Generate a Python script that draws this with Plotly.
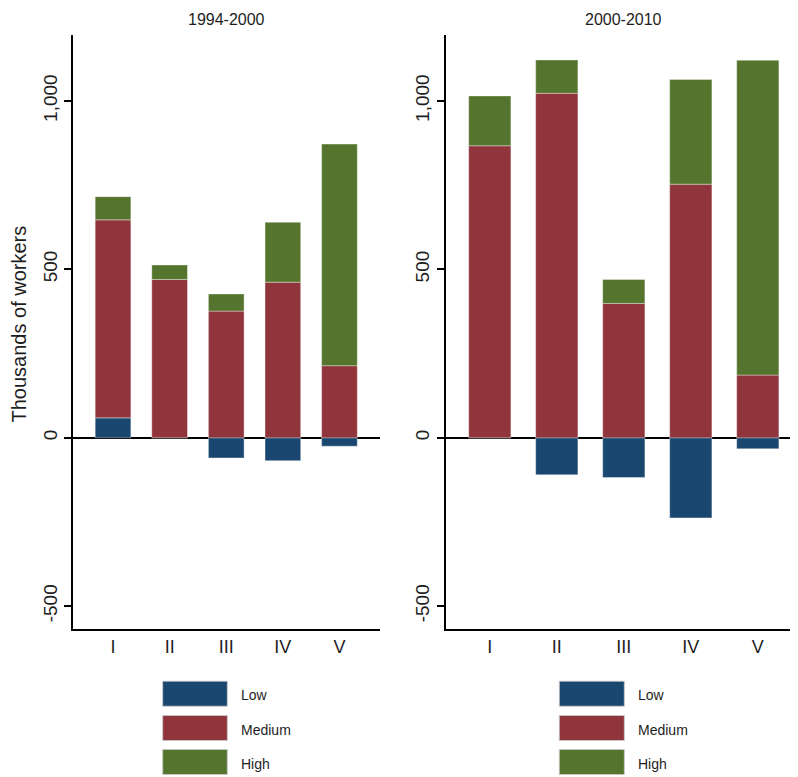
import plotly.graph_objects as go

# ---- data ----
categories = ["I", "II", "III", "IV", "V"]
series_names = ["Low", "Medium", "High"]
series_colors = ["#1a476f", "#90353b", "#55752f"]

p1_title = "1994-2000"
p1_low = [59, 0, -60, -68, -25]
p1_medium = [588, 470, 376, 462, 214]
p1_high = [69, 43, 51, 178, 658]

p2_title = "2000-2010"
p2_low = [0, -110, -118, -238, -33]
p2_medium = [867, 1023, 399, 753, 186]
p2_high = [148, 99, 71, 311, 935]

y_tickvals = [-500, 0, 500, 1000]
y_ticktext = ["-500", "0", "500", "1,000"]
y_title = "Thousands of workers"

FONT = "Liberation Sans, Arial, sans-serif"
TXT = "#1e1e1e"
OFF = 8  # page body margin
W, H = 798 - OFF, 777 - OFF

fig = go.Figure()

panels = [
    (p1_title, [p1_low, p1_medium, p1_high], "x", "y"),
    (p2_title, [p2_low, p2_medium, p2_high], "x2", "y2"),
]
for title, vals, xa, ya in panels:
    for name, color, v in zip(series_names, series_colors, vals):
        fig.add_trace(go.Bar(
            x=categories, y=v, name=name, xaxis=xa, yaxis=ya,
            marker=dict(color=color, line=dict(color="rgba(255,255,255,0.45)", width=0.8)),
            showlegend=False, hoverinfo="x+y+name",
        ))

def px_x(p):
    return (p - OFF) / W

def px_y(p):
    return 1 - (p - OFF) / H

ydom = [px_y(629), px_y(35)]
yrange = [-568, 1196]

common_y = dict(
    range=yrange, domain=ydom, showgrid=False, zeroline=True,
    zerolinecolor="black", zerolinewidth=2,
    showline=True, linecolor="black", linewidth=1.5,
    ticks="outside", ticklen=7, tickwidth=1.5, tickcolor="black",
    tickvals=y_tickvals, ticktext=y_ticktext, tickangle=-90,
    tickfont=dict(family=FONT, size=19, color=TXT), fixedrange=True,
)
common_x = dict(
    type="category", showgrid=False, zeroline=False,
    showline=True, linecolor="black", linewidth=1.5, ticks="",
    tickfont=dict(family=FONT, size=18, color=TXT), ticklabelstandoff=1,
    fixedrange=True,
)

fig.update_layout(
    width=W, height=H,
    margin=dict(l=0, r=0, t=0, b=0),
    paper_bgcolor="white", plot_bgcolor="white",
    barmode="relative", bargap=0.37,
    xaxis=dict(common_x, domain=[px_x(73), px_x(380)], range=[-0.707, 4.716], anchor="y"),
    yaxis=dict(common_y, anchor="x"),
    xaxis2=dict(common_x, domain=[px_x(445.7), 1.0], range=[-0.658, 4.6], anchor="y2"),
    yaxis2=dict(common_y, anchor="x2"),
    font=dict(family=FONT, color=TXT),
)

ann = []
# panel titles
for title, cx in [(p1_title, 226), (p2_title, 623)]:
    ann.append(dict(text=title, x=px_x(cx), y=px_y(19.5), xref="paper", yref="paper",
                    xanchor="center", yanchor="middle", showarrow=False,
                    font=dict(family=FONT, size=16, color=TXT)))
# y axis title
ann.append(dict(text=y_title, x=px_x(19), y=px_y(324.5), xref="paper", yref="paper",
                xanchor="center", yanchor="middle", showarrow=False, textangle=-90,
                font=dict(family=FONT, size=20, color=TXT)))

# legends (one per panel)
shapes = []
row_centers = [693.7, 728, 762]
for sx0, sx1, tx in [(162.7, 227.3, 239), (559.3, 624.3, 636)]:
    for name, color, cy in zip(series_names, series_colors, row_centers):
        shapes.append(dict(type="rect", xref="paper", yref="paper",
                           x0=px_x(sx0), x1=px_x(sx1), y0=px_y(cy + 12.5), y1=px_y(cy - 12.5),
                           fillcolor=color, line=dict(color="rgba(200,200,200,0.8)", width=1)))
        ann.append(dict(text=name, x=px_x(tx), y=px_y(cy + 1.5), xref="paper", yref="paper",
                        xanchor="left", yanchor="middle", showarrow=False,
                        font=dict(family=FONT, size=14, color=TXT)))

fig.update_layout(annotations=ann, shapes=shapes)

fig.write_html("out.html")
